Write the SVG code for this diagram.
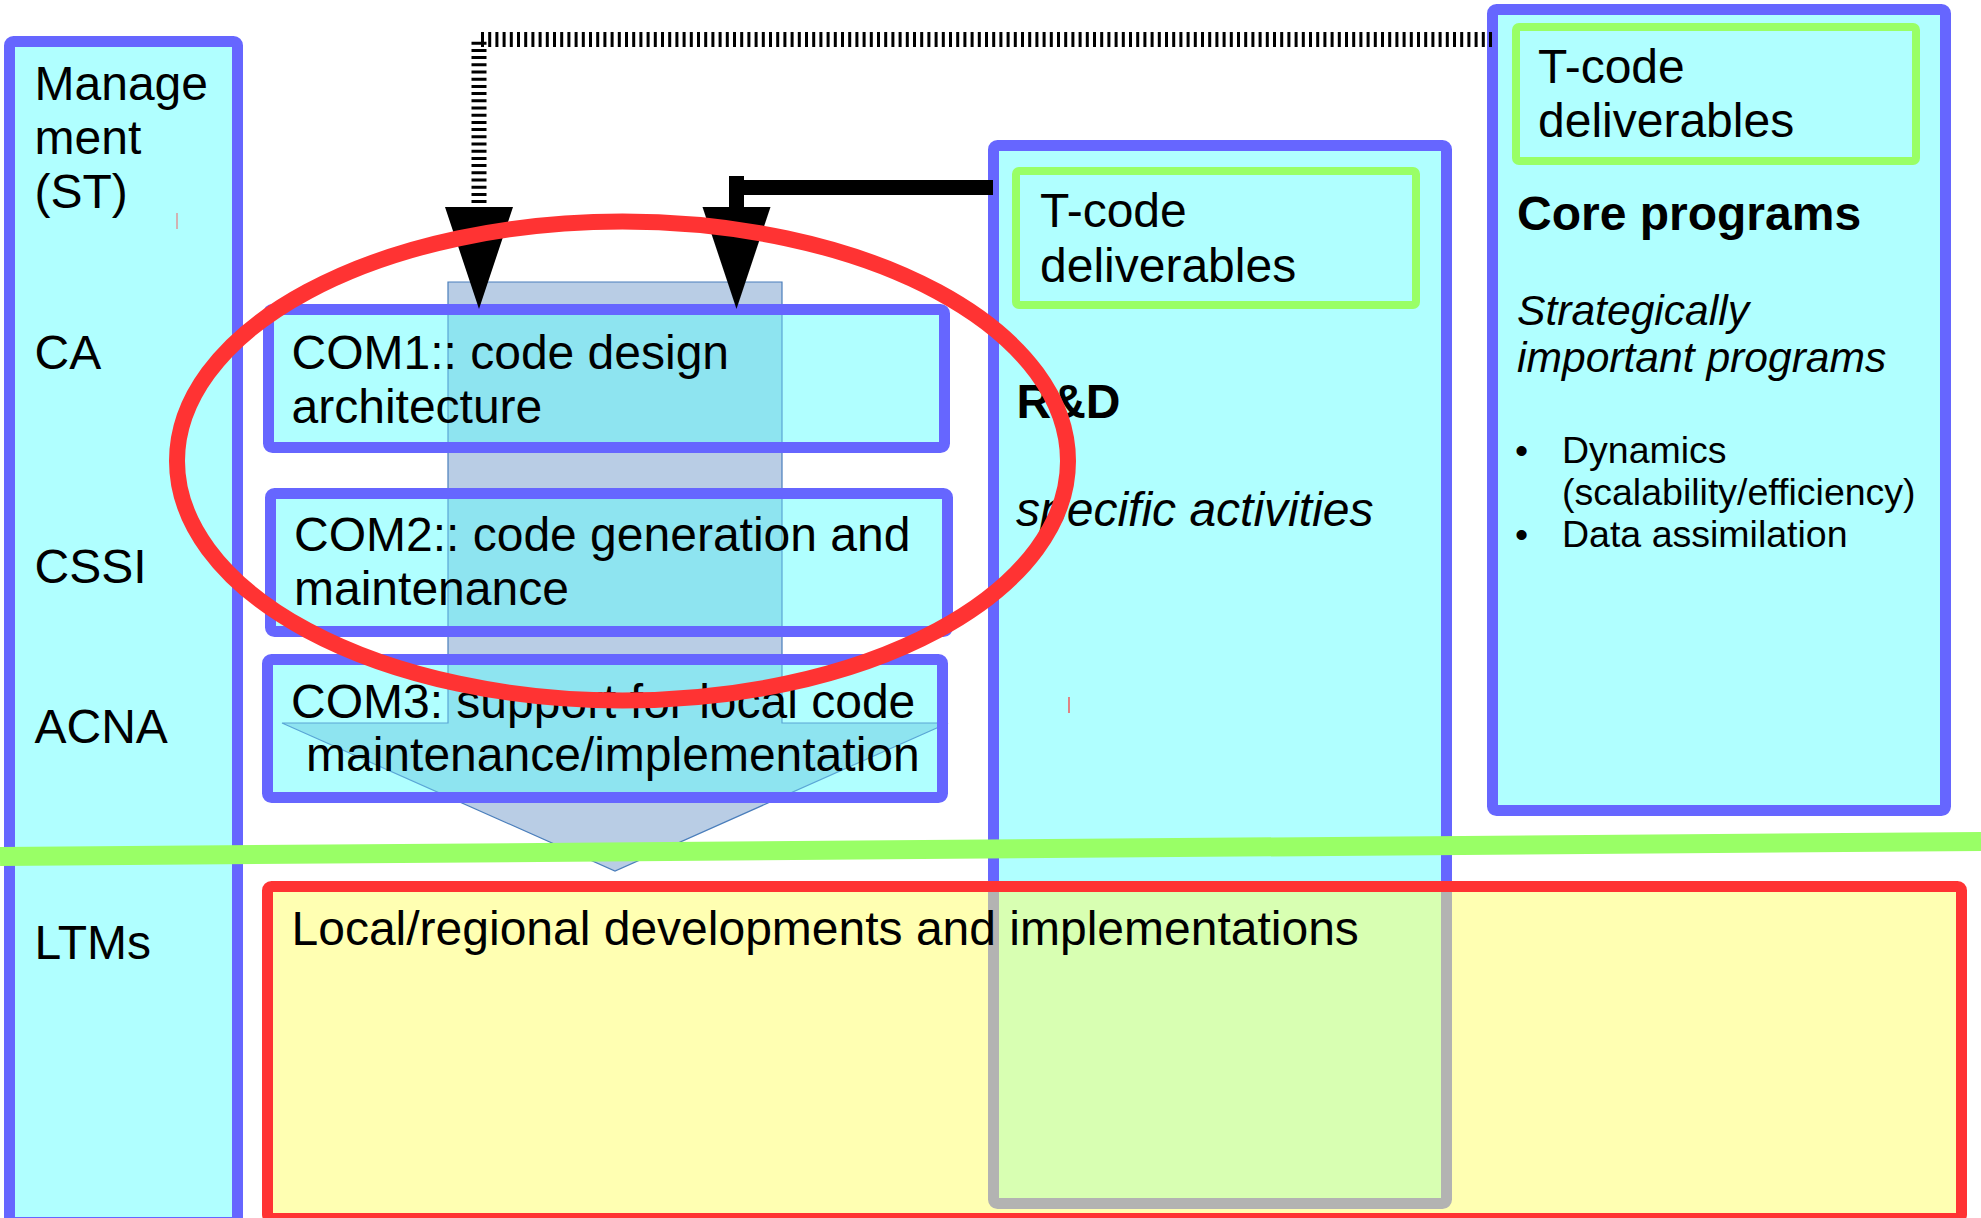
<svg xmlns="http://www.w3.org/2000/svg" width="1981" height="1218" viewBox="0 0 1981 1218">
<style>
text { font-family: "Liberation Sans", Arial, sans-serif; fill: #000; }
.t { font-size: 48px; }
.b { font-weight: bold; }
.i { font-style: italic; }
.box { fill: #b0ffff; stroke: #6666ff; stroke-width: 11; }
.gbox { fill: none; stroke: #99ff66; stroke-width: 8; }
.comfill { fill: #b0ffff; }
.comborder { fill: none; stroke: #6666ff; stroke-width: 11; }
</style>
<defs>
<marker id="ah" markerUnits="userSpaceOnUse" orient="auto" refX="0" refY="0" markerWidth="110" markerHeight="70" viewBox="0 -35 110 70" overflow="visible">
<path d="M0,-34 L102,0 L0,34 Z" fill="#000"/>
</marker>
<path id="bigArrow" d="M448,282 H782 V723 H948 L615,871 L282,723 H448 Z"/>
<clipPath id="comClip">
<rect x="263" y="304" width="687" height="149"/>
<rect x="265" y="488" width="688" height="149"/>
<rect x="262" y="654" width="686" height="149"/>
</clipPath>
</defs>

<rect x="0" y="0" width="1981" height="1218" fill="#ffffff"/>

<g id="management-column">
<rect class="box" x="9.5" y="41.5" width="228" height="1181" rx="4"/>
<text class="t" x="34.5" y="100">Manage</text>
<text class="t" x="34.5" y="154">ment</text>
<text class="t" x="34.5" y="208">(ST)</text>
<line x1="177" y1="213" x2="177" y2="229" stroke="#e88080" stroke-width="1.2"/>
<text class="t" x="34.5" y="369">CA</text>
<text class="t" x="34.5" y="583">CSSI</text>
<text class="t" x="34.5" y="743">ACNA</text>
<text class="t" x="34.5" y="959">LTMs</text>
</g>

<g id="core-programs">
<rect class="box" x="1492.5" y="9.5" width="453" height="801" rx="4"/>
<rect class="gbox" x="1516" y="27" width="400" height="134" rx="3"/>
<text class="t" x="1538" y="83">T-code</text>
<text class="t" x="1538" y="137">deliverables</text>
<text class="t b" x="1517" y="230">Core programs</text>
<text class="i" font-size="42.6" x="1517" y="325">Strategically</text>
<text class="i" font-size="42.6" x="1517" y="372">important programs</text>
<text font-size="37.5" x="1515" y="463">•</text>
<text font-size="37.5" x="1562" y="463">Dynamics</text>
<text font-size="37.5" x="1562" y="505">(scalability/efficiency)</text>
<text font-size="37.5" x="1515" y="547">•</text>
<text font-size="37.5" x="1562" y="547">Data assimilation</text>
</g>

<g id="rd-column">
<rect class="box" x="993.5" y="145.5" width="453" height="1058" rx="4"/>
<rect class="gbox" x="1016" y="171" width="400" height="134" rx="3"/>
<text class="t" x="1040" y="227">T-code</text>
<text class="t" x="1040" y="282">deliverables</text>
<text class="t b" x="1016.5" y="418">R&amp;D</text>
<text class="t i" x="1016" y="526">specific activities</text>
<line x1="1069" y1="697" x2="1069" y2="713" stroke="#ff3333" stroke-width="1.2"/>
</g>

<g id="flow-arrow">
<use href="#bigArrow" fill="#b9cde5" stroke="#4a7ebb" stroke-width="1.2"/>
</g>

<g id="com-boxes">
<rect class="comfill" x="268.5" y="309.5" width="676" height="138"/>
<rect class="comfill" x="270.5" y="493.5" width="677" height="138"/>
<rect class="comfill" x="267.5" y="659.5" width="675" height="138"/>
<use href="#bigArrow" fill="#8ee4f0" stroke="#5aa6d6" stroke-width="1.2" clip-path="url(#comClip)"/>
</g>
<g id="com1">
<rect class="comborder" x="268.5" y="309.5" width="676" height="138" rx="4"/>
<text class="t" x="291.5" y="369">COM1:: code design</text>
<text class="t" x="291.5" y="423">architecture</text>
</g>
<g id="com2">
<rect class="comborder" x="270.5" y="493.5" width="677" height="138" rx="4"/>
<text class="t" x="294" y="551">COM2:: code generation and</text>
<text class="t" x="294" y="605">maintenance</text>
</g>
<g id="com3">
<rect class="comborder" x="267.5" y="659.5" width="675" height="138" rx="4"/>
<text class="t" x="291" y="718">COM3: support for local code</text>
<text class="t" x="306" y="771">maintenance/implementation</text>
</g>

<g id="local-regional">
<rect x="267.5" y="886.5" width="1694" height="332" rx="4" fill="#ffff66" fill-opacity="0.5"/>
<rect x="267.5" y="886.5" width="1694" height="332" rx="4" fill="none" stroke="#ff3333" stroke-width="11"/>
<text class="t" x="291.5" y="945">Local/regional developments and implementations</text>
</g>

<g id="connectors">
<path d="M1492,39.5 H479 V207" fill="none" stroke="#000" stroke-width="15" stroke-dasharray="3 4.2" marker-end="url(#ah)"/>
<path d="M993,187.5 H736.5 M736.5,176 V207" fill="none" stroke="#000" stroke-width="15" marker-end="url(#ah)"/>
</g>

<g id="highlight-ellipse">
<ellipse cx="622.5" cy="461" rx="445.5" ry="239.5" fill="none" stroke="#ff3333" stroke-width="16"/>
</g>

<g id="separator-line">
<line x1="0" y1="856.5" x2="1981" y2="841.5" stroke="#99ff66" stroke-width="19"/>
</g>
</svg>
